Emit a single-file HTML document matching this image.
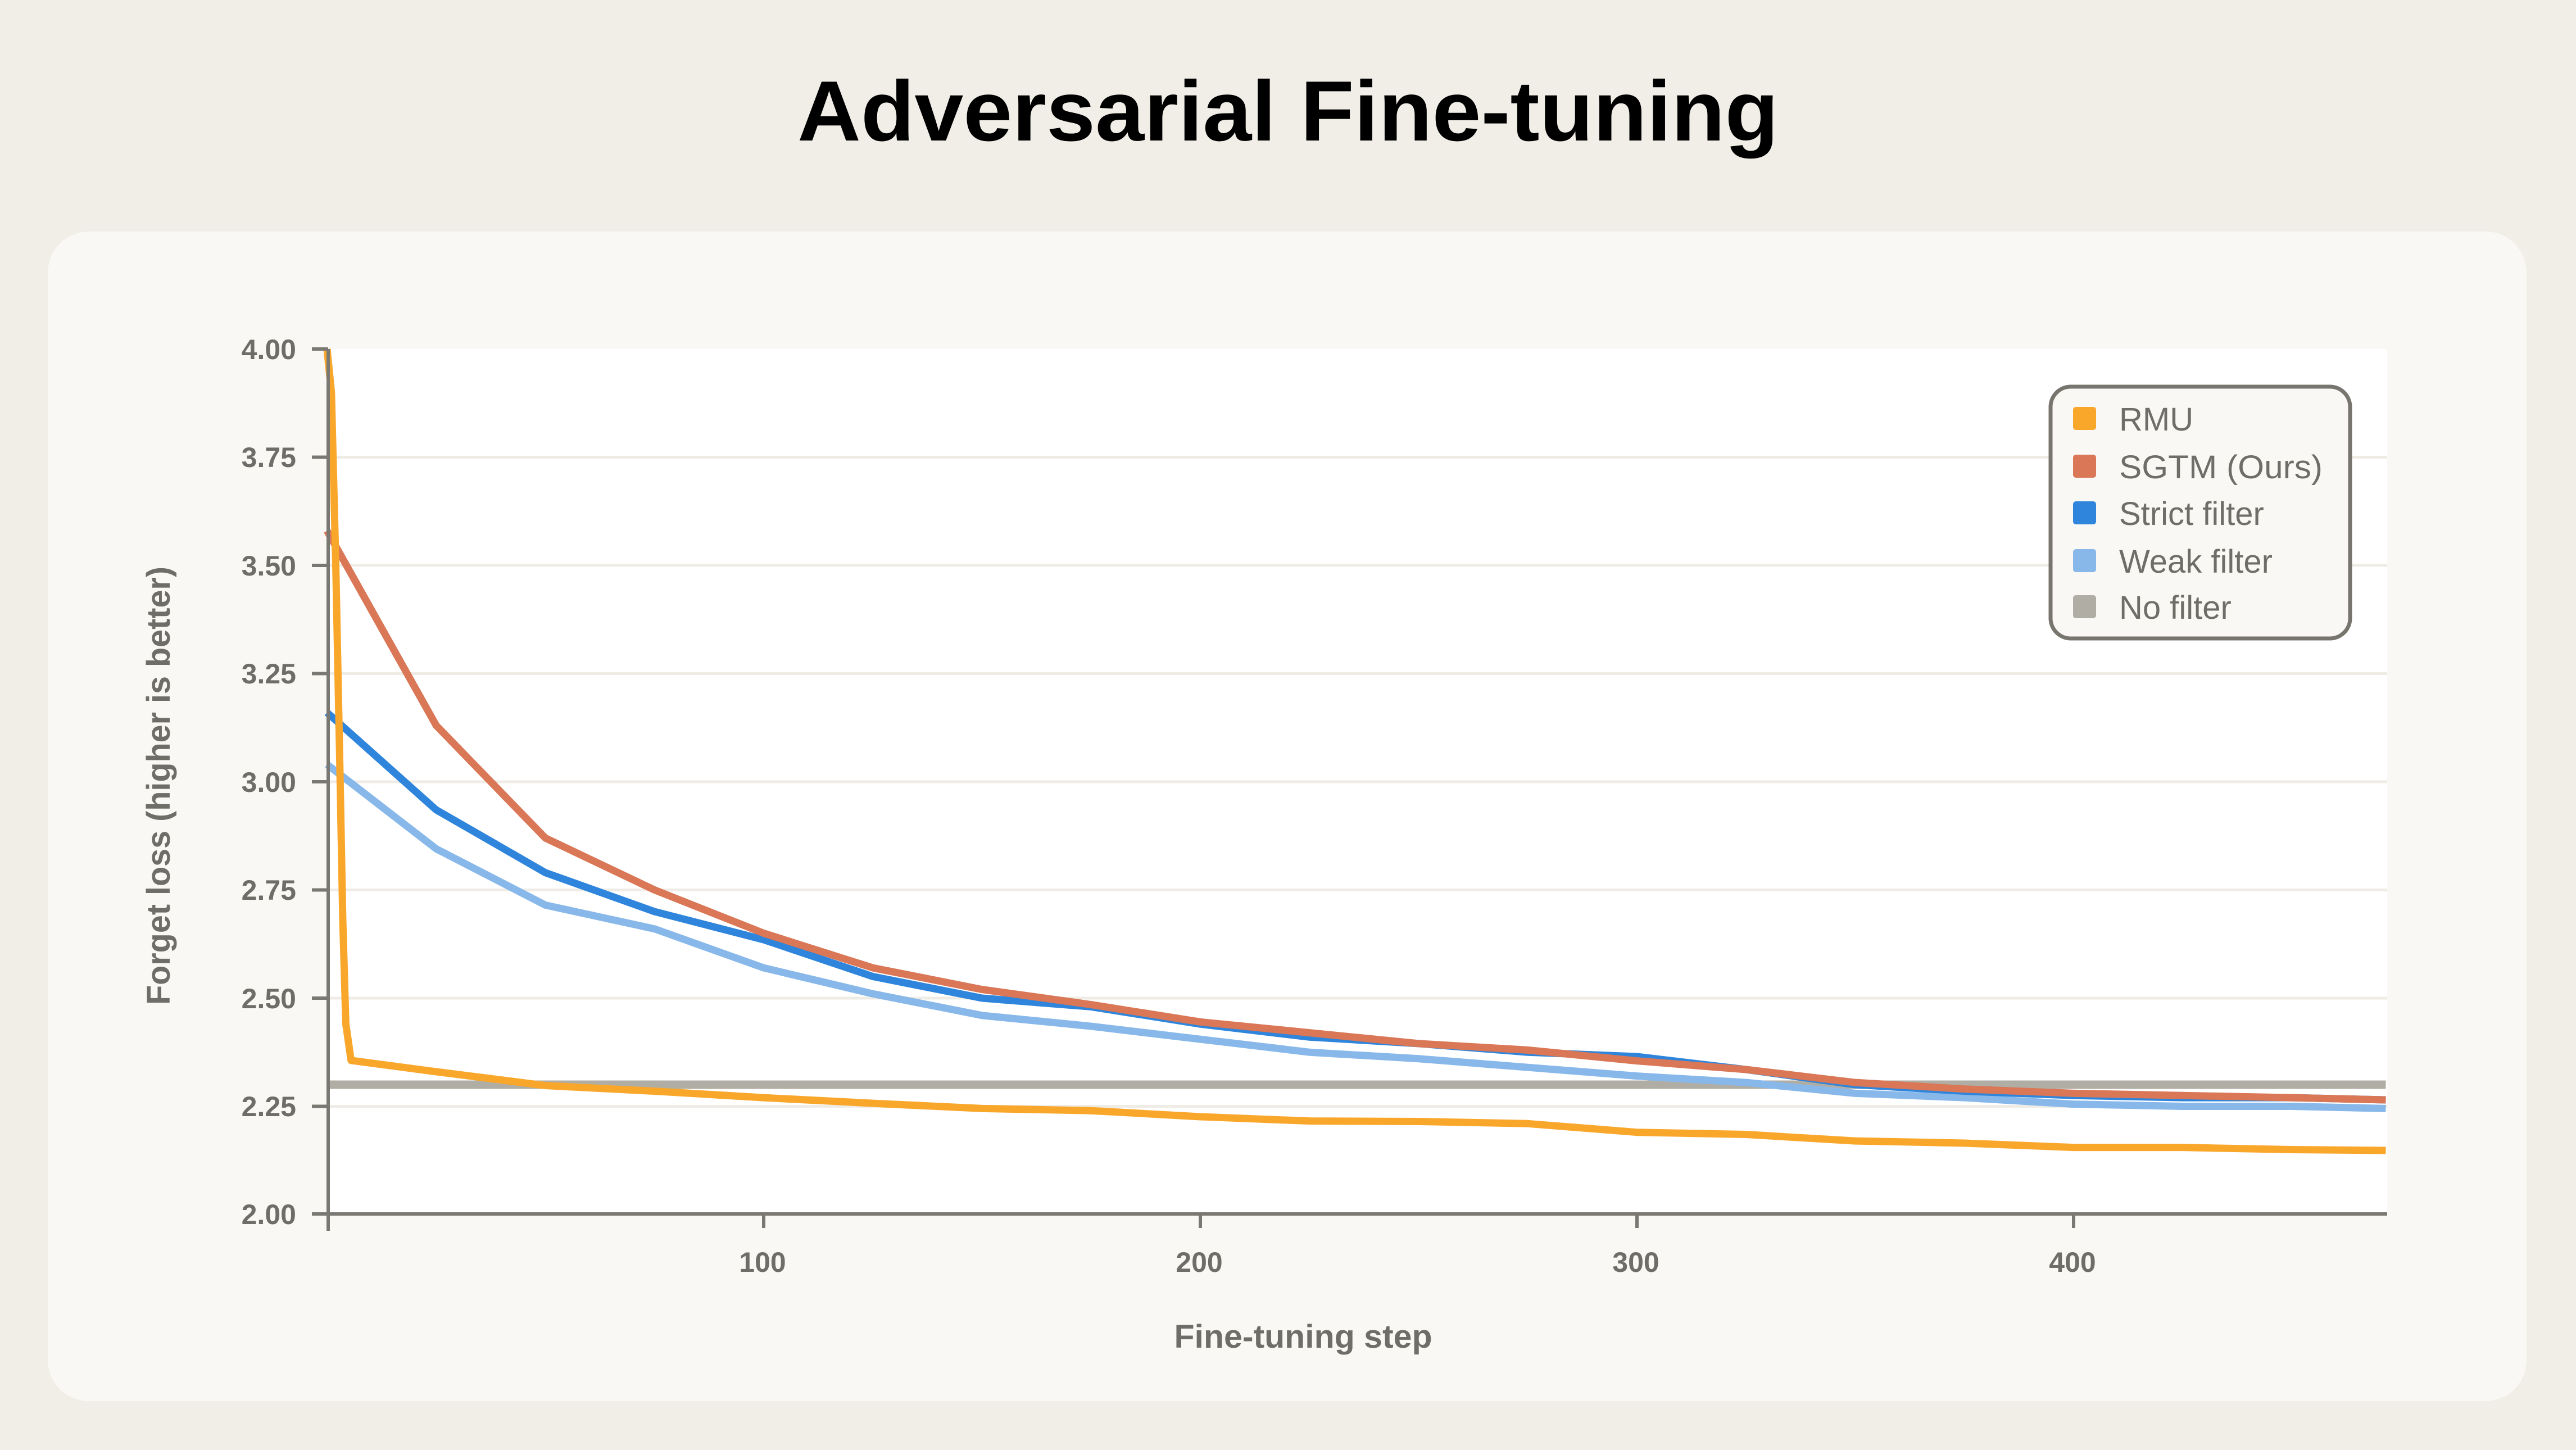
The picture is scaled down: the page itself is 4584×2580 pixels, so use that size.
<!DOCTYPE html>
<html><head><meta charset="utf-8"><style>
html,body{margin:0;padding:0;background:#f0eee7;}
svg{display:block;}
text{font-family:"Liberation Sans",sans-serif;}
</style></head><body>
<svg width="4584" height="2580" viewBox="0 0 4584 2580" xmlns="http://www.w3.org/2000/svg">
<rect width="4584" height="2580" fill="#f0eee7"/>
<text x="2292" y="250" text-anchor="middle" font-size="152" font-weight="bold" fill="#000" textLength="1746" lengthAdjust="spacingAndGlyphs">Adversarial Fine-tuning</text>
<rect x="85" y="412" width="4411" height="2081" rx="73" fill="#f9f8f4"/>
<rect x="582" y="621" width="3666" height="1540" fill="#ffffff"/>
<g stroke="#efece6" stroke-width="5">
<line x1="582" y1="813.5" x2="4248" y2="813.5"/>
<line x1="582" y1="1006" x2="4248" y2="1006"/>
<line x1="582" y1="1198.5" x2="4248" y2="1198.5"/>
<line x1="582" y1="1391" x2="4248" y2="1391"/>
<line x1="582" y1="1583.5" x2="4248" y2="1583.5"/>
<line x1="582" y1="1776" x2="4248" y2="1776"/>
<line x1="582" y1="1968.5" x2="4248" y2="1968.5"/>
</g>
<g transform="translate(582,3701) scale(7.77,-770)" fill="none" stroke-linejoin="round">
<polyline vector-effect="non-scaling-stroke" stroke="#b0ada4" stroke-width="15" points="0,2.30 471.5,2.30"/>
<polyline vector-effect="non-scaling-stroke" stroke="#88b8ea" stroke-width="13" points="0,3.04 25,2.845 50,2.715 75,2.66 100,2.57 125,2.51 150,2.46 175,2.435 200,2.405 225,2.375 250,2.36 275,2.34 300,2.32 325,2.305 350,2.28 375,2.27 400,2.255 425,2.25 450,2.25 471.5,2.245"/>
<polyline vector-effect="non-scaling-stroke" stroke="#2e85db" stroke-width="13" points="0,3.16 25,2.935 50,2.79 75,2.70 100,2.635 125,2.55 150,2.50 175,2.48 200,2.44 225,2.41 250,2.395 275,2.375 300,2.365 325,2.335 350,2.30 375,2.285 400,2.275 425,2.27 450,2.27 471.5,2.265"/>
<polyline vector-effect="non-scaling-stroke" stroke="#d97757" stroke-width="13" points="0,3.58 25,3.13 50,2.87 75,2.75 100,2.65 125,2.57 150,2.52 175,2.485 200,2.445 225,2.42 250,2.395 275,2.38 300,2.355 325,2.335 350,2.305 375,2.29 400,2.28 425,2.275 450,2.27 471.5,2.265"/>
<polyline vector-effect="non-scaling-stroke" stroke="#f9a72b" stroke-width="13" points="0,4.0 1,3.9 2,3.5 3,3.0 3.6,2.68 4.3,2.44 5.5,2.356 25,2.33 50,2.298 75,2.285 100,2.27 125,2.257 150,2.245 175,2.24 200,2.226 225,2.216 250,2.215 275,2.21 300,2.19 325,2.185 350,2.17 375,2.165 400,2.155 425,2.155 450,2.15 471.5,2.148"/>
</g>
<g stroke="#7a7872" stroke-width="6">
<line x1="584" y1="621" x2="584" y2="2190"/>
<line x1="582" y1="2160" x2="4248" y2="2160"/>
<line x1="555" y1="621" x2="584" y2="621"/>
<line x1="555" y1="813.5" x2="584" y2="813.5"/>
<line x1="555" y1="1006" x2="584" y2="1006"/>
<line x1="555" y1="1198.5" x2="584" y2="1198.5"/>
<line x1="555" y1="1391" x2="584" y2="1391"/>
<line x1="555" y1="1583.5" x2="584" y2="1583.5"/>
<line x1="555" y1="1776" x2="584" y2="1776"/>
<line x1="555" y1="1968.5" x2="584" y2="1968.5"/>
<line x1="555" y1="2160" x2="584" y2="2160"/>
<line x1="1359" y1="2160" x2="1359" y2="2185"/>
<line x1="2136" y1="2160" x2="2136" y2="2185"/>
<line x1="2913" y1="2160" x2="2913" y2="2185"/>
<line x1="3690" y1="2160" x2="3690" y2="2185"/>
</g>
<g fill="#6f6d67" font-size="50" font-weight="bold" text-anchor="end">
<text x="527" y="639">4.00</text>
<text x="527" y="831">3.75</text>
<text x="527" y="1024">3.50</text>
<text x="527" y="1216">3.25</text>
<text x="527" y="1409">3.00</text>
<text x="527" y="1601">2.75</text>
<text x="527" y="1794">2.50</text>
<text x="527" y="1986">2.25</text>
<text x="527" y="2178">2.00</text>
</g>
<g fill="#6f6d67" font-size="50" font-weight="bold" text-anchor="middle">
<text x="1357" y="2263">100</text>
<text x="2134" y="2263">200</text>
<text x="2911" y="2263">300</text>
<text x="3688" y="2263">400</text>
<text x="2319" y="2398" font-size="58" textLength="459" lengthAdjust="spacingAndGlyphs">Fine-tuning step</text>
<text transform="translate(302,1398) rotate(-90)" font-size="58" textLength="780" lengthAdjust="spacingAndGlyphs">Forget loss (higher is better)</text>
</g>
<rect x="3649" y="688" width="533" height="448" rx="36" fill="#f9f8f4" stroke="#77756e" stroke-width="7"/>
<rect x="3689" y="724" width="41" height="41" rx="5" fill="#f9a72b"/>
<rect x="3689" y="809" width="41" height="41" rx="5" fill="#d97757"/>
<rect x="3689" y="892" width="41" height="41" rx="5" fill="#2e85db"/>
<rect x="3689" y="977" width="41" height="41" rx="5" fill="#88b8ea"/>
<rect x="3689" y="1059" width="41" height="41" rx="5" fill="#b0ada4"/>
<g fill="#6f6d67" font-size="58">
<text x="3771" y="766">RMU</text>
<text x="3771" y="851" textLength="362" lengthAdjust="spacingAndGlyphs">SGTM (Ours)</text>
<text x="3771" y="934">Strict filter</text>
<text x="3771" y="1019">Weak filter</text>
<text x="3771" y="1101">No filter</text>
</g>
</svg>
</body></html>
